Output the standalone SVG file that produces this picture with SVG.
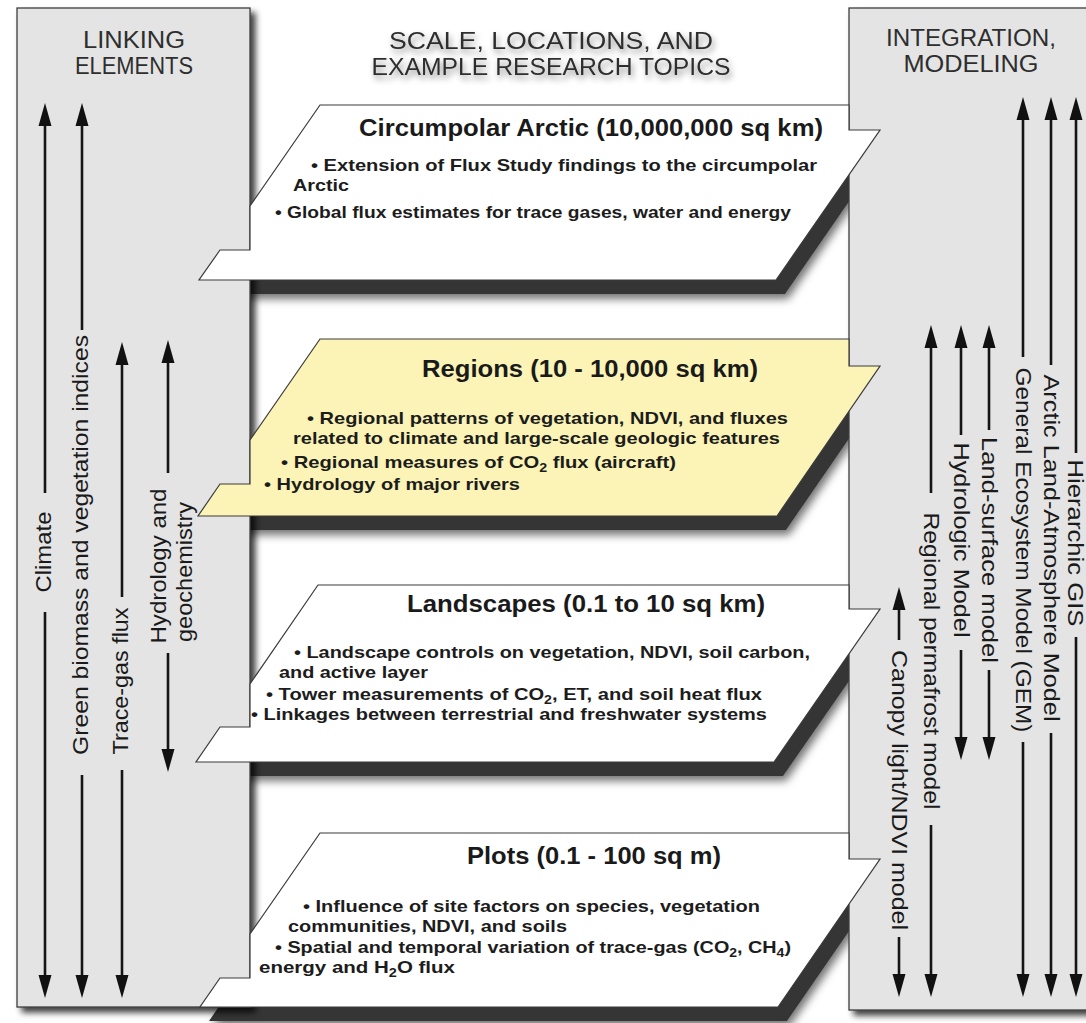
<svg xmlns="http://www.w3.org/2000/svg" width="1086" height="1023" viewBox="0 0 1086 1023">
<defs>
<style>
.panel{fill:#e4e4e4;stroke:#3d3d3d;stroke-width:1.3}
.face{stroke:#3a3a3a;stroke-width:1.2;stroke-linejoin:miter}
.white{fill:#ffffff}
.yellow{fill:#fbf4b6}
.slab{fill:#363636}
.head{font-family:"Liberation Sans",Arial,sans-serif;font-size:23px;fill:#2e2e2e}
.t{font-family:"Liberation Sans",Arial,sans-serif;font-weight:bold;font-size:23px;fill:#1a1a1a}
.b{font-family:"Liberation Sans",Arial,sans-serif;font-weight:bold;font-size:17px;fill:#1c1c1c}
.sub{font-size:12px}
.lab{font-family:"Liberation Sans",Arial,sans-serif;font-size:22px;fill:#1a1a1a}
.ln{stroke:#151515;stroke-width:2.6;fill:none;marker-end:url(#ah)}
</style>
<marker id="ah" markerUnits="userSpaceOnUse" markerWidth="24" markerHeight="14" viewBox="0 0 24 14" refX="10" refY="7" orient="auto">
<path d="M0,0.5 L23,7 L0,13.5 z" fill="#111"/>
</marker>
<filter id="ps" x="-10%" y="-5%" width="125%" height="115%">
<feDropShadow dx="5" dy="5" stdDeviation="3" flood-color="#000" flood-opacity="0.75"/>
</filter>
<filter id="ss" x="-10%" y="-20%" width="125%" height="150%">
<feDropShadow dx="3" dy="5" stdDeviation="4" flood-color="#000" flood-opacity="0.55"/>
</filter>
<filter id="ts" x="-10%" y="-30%" width="120%" height="180%">
<feDropShadow dx="2" dy="4" stdDeviation="3" flood-color="#000" flood-opacity="0.45"/>
</filter>
</defs>
<rect x="0" y="0" width="1086" height="1023" fill="#ffffff"/>

<g id="slabs" filter="url(#ss)">
<polygon class="slab" points="329,119 906,119 785,294 208,294"/>
<polygon class="slab" points="329,353 908,353 786,530 207,530"/>
<polygon class="slab" points="327,599 906,599 783,776 205,776"/>
<polygon class="slab" points="329,847 907,847 787,1021 209,1021"/>
</g>

<g id="linking-elements">
<rect class="panel" x="17" y="8" width="233" height="999" filter="url(#ps)"/>
<text class="head" x="134" y="48" text-anchor="middle" textLength="102" lengthAdjust="spacingAndGlyphs">LINKING</text>
<text class="head" x="134" y="74" text-anchor="middle" textLength="118" lengthAdjust="spacingAndGlyphs">ELEMENTS</text>
</g>

<g id="integration-modeling">
<rect class="panel" x="849" y="8" width="260" height="1002" filter="url(#ps)"/>
<text class="head" x="971" y="46" text-anchor="middle" textLength="170" lengthAdjust="spacingAndGlyphs">INTEGRATION,</text>
<text class="head" x="971" y="72" text-anchor="middle" textLength="135" lengthAdjust="spacingAndGlyphs">MODELING</text>
</g>

<g id="main-title" filter="url(#ts)">
<text class="head" x="551" y="49" text-anchor="middle" textLength="324" lengthAdjust="spacingAndGlyphs">SCALE, LOCATIONS, AND</text>
<text class="head" x="551" y="75" text-anchor="middle" textLength="359" lengthAdjust="spacingAndGlyphs">EXAMPLE RESEARCH TOPICS</text>
</g>

<g id="circumpolar">
<polygon class="face white" points="320,105 849,105 849,130 880,130 776,280 199,280 220,250 250,250 250,206"/>
<text class="t" x="359" y="136" textLength="464" lengthAdjust="spacingAndGlyphs">Circumpolar Arctic (10,000,000 sq km)</text>
<text class="b" x="311" y="171" textLength="506" lengthAdjust="spacingAndGlyphs">• Extension of Flux Study findings to the circumpolar</text>
<text class="b" x="293" y="191" textLength="56" lengthAdjust="spacingAndGlyphs">Arctic</text>
<text class="b" x="275" y="218" textLength="516" lengthAdjust="spacingAndGlyphs">• Global flux estimates for trace gases, water and energy</text>
</g>

<g id="regions">
<polygon class="face yellow" points="320,339 849,339 849,366 880,366 777,516 198,516 220,484 250,484 250,440"/>
<text class="t" x="422" y="377" textLength="336" lengthAdjust="spacingAndGlyphs">Regions (10 - 10,000 sq km)</text>
<text class="b" x="307" y="424" textLength="481" lengthAdjust="spacingAndGlyphs">• Regional patterns of vegetation, NDVI, and fluxes</text>
<text class="b" x="293" y="444" textLength="487" lengthAdjust="spacingAndGlyphs">related to climate and large-scale geologic features</text>
<text class="b" x="281" y="468" textLength="395" lengthAdjust="spacingAndGlyphs">• Regional measures of CO<tspan class="sub" dy="4">2</tspan><tspan dy="-4"> flux (aircraft)</tspan></text>
<text class="b" x="264" y="490" textLength="256" lengthAdjust="spacingAndGlyphs">• Hydrology of major rivers</text>
</g>

<g id="landscapes">
<polygon class="face white" points="318,585 849,585 849,609 880,609 774,762 196,762 220,727 250,727 250,684"/>
<text class="t" x="407" y="612" textLength="358" lengthAdjust="spacingAndGlyphs">Landscapes (0.1 to 10 sq km)</text>
<text class="b" x="294" y="658" textLength="516" lengthAdjust="spacingAndGlyphs">• Landscape controls on vegetation, NDVI, soil carbon,</text>
<text class="b" x="279" y="678" textLength="149" lengthAdjust="spacingAndGlyphs">and active layer</text>
<text class="b" x="266" y="700" textLength="496" lengthAdjust="spacingAndGlyphs">• Tower measurements of CO<tspan class="sub" dy="4">2</tspan><tspan dy="-4">, ET, and soil heat flux</tspan></text>
<text class="b" x="251" y="720" textLength="516" lengthAdjust="spacingAndGlyphs">• Linkages between terrestrial and freshwater systems</text>
</g>

<g id="plots">
<polygon class="face white" points="320,833 849,833 849,859 880,859 778,1007 200,1007 220,978 250,978 250,934"/>
<text class="t" x="467" y="864" textLength="254" lengthAdjust="spacingAndGlyphs">Plots (0.1 - 100 sq m)</text>
<text class="b" x="303" y="912" textLength="457" lengthAdjust="spacingAndGlyphs">• Influence of site factors on species, vegetation</text>
<text class="b" x="288" y="932" textLength="279" lengthAdjust="spacingAndGlyphs">communities, NDVI, and soils</text>
<text class="b" x="275" y="953" textLength="516" lengthAdjust="spacingAndGlyphs">• Spatial and temporal variation of trace-gas (CO<tspan class="sub" dy="4">2</tspan><tspan dy="-4">, CH</tspan><tspan class="sub" dy="4">4</tspan><tspan dy="-4">)</tspan></text>
<text class="b" x="259" y="973" textLength="196" lengthAdjust="spacingAndGlyphs">energy and H<tspan class="sub" dy="4">2</tspan><tspan dy="-4">O flux</tspan></text>
</g>

<g id="connectors">
<path class="ln" d="M45,493 V116"/>
<path class="ln" d="M45,612 V985"/>
<path class="ln" d="M82,330 V116"/>
<path class="ln" d="M82,775 V985"/>
<path class="ln" d="M122,597 V355"/>
<path class="ln" d="M122,770 V985"/>
<path class="ln" d="M168,473 V353"/>
<path class="ln" d="M168,653 V759"/>
<path class="ln" d="M1076,453 V110"/>
<path class="ln" d="M1076,637 V984"/>
<path class="ln" d="M1051,365 V110"/>
<path class="ln" d="M1051,733 V984"/>
<path class="ln" d="M1023,357 V110"/>
<path class="ln" d="M1023,742 V984"/>
<path class="ln" d="M989,430 V338"/>
<path class="ln" d="M989,670 V747"/>
<path class="ln" d="M961,435 V338"/>
<path class="ln" d="M961,650 V747"/>
<path class="ln" d="M931,493 V338"/>
<path class="ln" d="M931,825 V984"/>
<path class="ln" d="M899,640 V600"/>
<path class="ln" d="M899,937 V984"/>
</g>

<g id="connector-labels">
<text class="lab" transform="translate(51,552) rotate(-90)" text-anchor="middle" textLength="81" lengthAdjust="spacingAndGlyphs">Climate</text>
<text class="lab" transform="translate(88,545) rotate(-90)" text-anchor="middle" textLength="420" lengthAdjust="spacingAndGlyphs">Green biomass and vegetation indices</text>
<text class="lab" transform="translate(128,681) rotate(-90)" text-anchor="middle" textLength="147" lengthAdjust="spacingAndGlyphs">Trace-gas flux</text>
<text class="lab" transform="translate(166,566) rotate(-90)" text-anchor="middle" textLength="155" lengthAdjust="spacingAndGlyphs">Hydrology and</text>
<text class="lab" transform="translate(192,572) rotate(-90)" text-anchor="middle" textLength="140" lengthAdjust="spacingAndGlyphs">geochemistry</text>
<text class="lab" transform="translate(1068,543) rotate(90)" text-anchor="middle" textLength="167" lengthAdjust="spacingAndGlyphs">Hierarchic GIS</text>
<text class="lab" transform="translate(1044,548) rotate(90)" text-anchor="middle" textLength="347" lengthAdjust="spacingAndGlyphs">Arctic Land-Atmosphere Model</text>
<text class="lab" transform="translate(1016,550) rotate(90)" text-anchor="middle" textLength="365" lengthAdjust="spacingAndGlyphs">General Ecosystem Model (GEM)</text>
<text class="lab" transform="translate(982,550) rotate(90)" text-anchor="middle" textLength="226" lengthAdjust="spacingAndGlyphs">Land-surface model</text>
<text class="lab" transform="translate(954,540) rotate(90)" text-anchor="middle" textLength="195" lengthAdjust="spacingAndGlyphs">Hydrologic Model</text>
<text class="lab" transform="translate(924,661) rotate(90)" text-anchor="middle" textLength="297" lengthAdjust="spacingAndGlyphs">Regional permafrost model</text>
<text class="lab" transform="translate(892,790) rotate(90)" text-anchor="middle" textLength="280" lengthAdjust="spacingAndGlyphs">Canopy light/NDVI model</text>
</g>
</svg>
